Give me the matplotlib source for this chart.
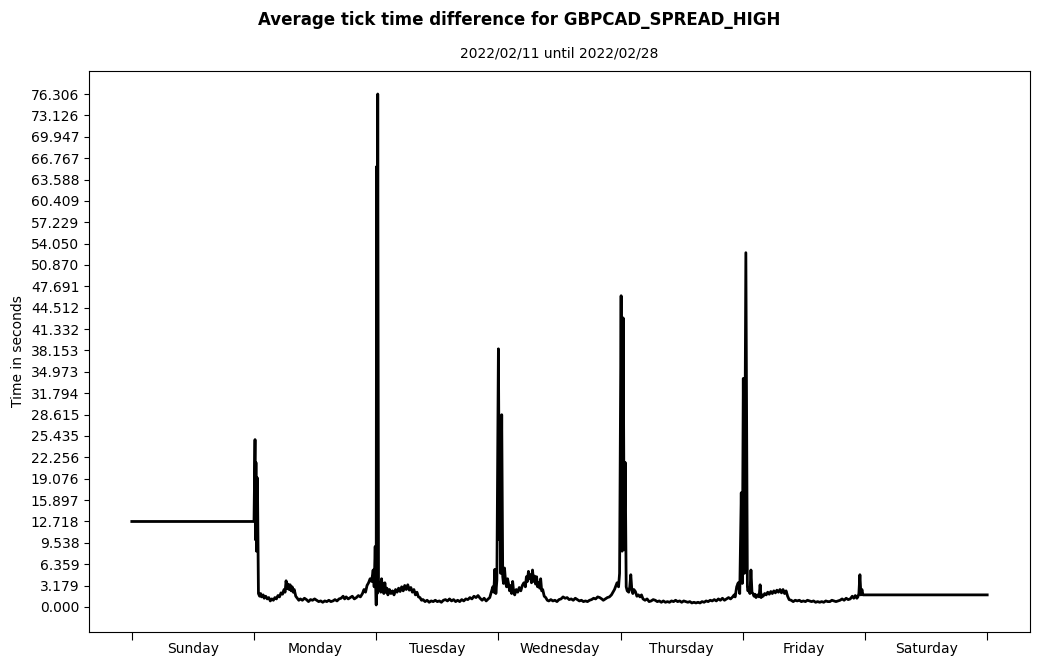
import numpy as np
import matplotlib
matplotlib.use('Agg')
import matplotlib.pyplot as plt

# (hour into the week, average tick gap in seconds), Sunday 00:00 = hour 0
sunday = [(0.0, 12.718), (24.0, 12.718)]

monday = [
    (24.2, 24.9), (24.28, 10.0), (24.38, 21.5), (24.48, 8.3), (24.67, 19.2),
    (24.87, 2.0), (25.1, 1.6), (25.3, 2.0), (25.5, 1.5), (25.8, 1.8), (26.0, 1.3),
    (26.3, 1.6), (26.6, 1.2), (26.9, 1.4), (27.2, 0.9), (27.5, 1.2), (27.8, 1.0),
    (28.1, 1.4), (28.4, 1.2), (28.7, 1.7), (29.0, 1.5), (29.3, 2.1), (29.6, 1.9),
    (29.9, 2.6), (30.1, 2.2), (30.3, 3.9), (30.5, 2.7), (30.7, 3.4), (30.9, 2.6),
    (31.1, 3.3), (31.3, 2.4), (31.5, 3.0), (31.7, 2.2), (31.9, 2.6), (32.2, 1.6),
    (32.5, 1.3), (32.8, 1.0), (33.1, 1.2), (33.5, 1.0), (33.9, 1.3), (34.3, 1.1),
    (34.7, 0.8), (35.1, 1.1), (35.5, 1.0), (35.9, 1.2), (36.3, 1.0), (36.7, 0.8),
    (37.1, 0.9), (37.5, 0.7), (37.9, 0.9), (38.3, 0.8), (38.7, 1.0), (39.1, 0.8),
    (39.5, 0.9), (39.9, 1.1), (40.3, 0.9), (40.7, 1.2), (41.1, 1.3), (41.5, 1.6),
    (41.8, 1.2), (42.1, 1.5), (42.5, 1.2), (42.9, 1.4), (43.3, 1.6), (43.7, 1.2),
    (44.1, 1.4), (44.5, 1.7), (44.9, 1.5), (45.3, 2.0), (45.6, 2.6), (45.9, 2.2),
    (46.2, 3.2), (46.5, 3.6), (46.8, 4.2), (47.1, 3.8), (47.4, 5.5), (47.6, 3.0),
    (47.8, 9.0), (48.0, 0.3), (48.07, 65.5), (48.2, 2.0), (48.3, 76.3056),
]

tuesday = [
    (48.45, 4.0), (48.6, 2.5), (48.76, 3.2), (48.9, 2.2), (49.05, 4.2), (49.2, 2.8),
    (49.35, 3.5), (49.5, 2.0), (49.7, 3.6), (49.9, 2.2), (50.1, 2.8), (50.3, 1.8),
    (50.6, 2.6), (50.9, 2.0), (51.2, 2.4), (51.5, 1.8), (51.8, 2.6), (52.1, 2.2),
    (52.4, 2.8), (52.7, 2.3), (53.0, 3.0), (53.3, 2.4), (53.6, 3.2), (53.9, 2.6),
    (54.2, 3.3), (54.5, 2.5), (54.8, 2.9), (55.1, 2.2), (55.4, 2.6), (55.7, 1.8),
    (56.0, 2.2), (56.3, 1.5), (56.6, 1.4), (56.9, 1.0), (57.2, 1.1), (57.6, 0.8),
    (58.0, 1.0), (58.4, 0.7), (58.8, 0.9), (59.2, 0.8), (59.6, 1.0), (60.0, 0.8),
    (60.4, 0.9), (60.8, 0.7), (61.2, 1.0), (61.6, 1.1), (62.0, 0.9), (62.4, 1.2),
    (62.8, 0.9), (63.2, 1.1), (63.6, 0.8), (64.0, 1.0), (64.4, 0.8), (64.8, 1.1),
    (65.2, 0.9), (65.6, 1.2), (66.0, 1.1), (66.4, 1.4), (66.8, 1.2), (67.2, 1.6),
    (67.6, 1.4), (68.0, 1.7), (68.4, 1.3), (68.8, 1.0), (69.2, 1.3), (69.6, 0.9),
    (70.0, 1.2), (70.3, 1.4), (70.6, 2.2), (70.9, 3.0), (71.1, 2.2), (71.3, 5.6),
    (71.5, 2.0), (71.7, 4.0), (72.0, 38.4),
]

wednesday = [
    (72.2, 10.0), (72.3, 25.0), (72.45, 5.0), (72.65, 28.6), (72.85, 4.5),
    (73.0, 3.5), (73.2, 5.8), (73.4, 3.8), (73.6, 3.0), (73.8, 4.2), (74.0, 3.4),
    (74.2, 2.4), (74.4, 3.2), (74.6, 2.0), (74.8, 3.8), (75.0, 2.2), (75.2, 1.8),
    (75.5, 2.6), (75.8, 2.2), (76.1, 2.9), (76.4, 2.4), (76.7, 3.2), (77.0, 3.6),
    (77.3, 3.0), (77.5, 4.5), (77.7, 3.8), (77.9, 5.3), (78.1, 4.2), (78.3, 4.8),
    (78.5, 3.6), (78.7, 5.5), (78.9, 3.8), (79.1, 4.6), (79.3, 3.4), (79.5, 4.5),
    (79.7, 3.0), (79.9, 3.6), (80.1, 2.8), (80.3, 4.2), (80.5, 2.4), (80.7, 2.6),
    (81.0, 1.6), (81.3, 1.4), (81.6, 1.0), (81.9, 0.9), (82.3, 1.1), (82.7, 0.9),
    (83.1, 1.0), (83.5, 0.8), (83.9, 1.1), (84.3, 1.2), (84.7, 1.5), (85.1, 1.3),
    (85.5, 1.4), (85.9, 1.1), (86.3, 1.2), (86.7, 1.0), (87.1, 1.3), (87.5, 1.1),
    (87.9, 0.9), (88.3, 1.0), (88.7, 0.8), (89.1, 0.9), (89.5, 0.8), (89.9, 1.0),
    (90.3, 1.1), (90.7, 1.3), (91.1, 1.2), (91.5, 1.5), (91.9, 1.4), (92.3, 1.2),
    (92.6, 1.0), (93.0, 1.2), (93.4, 1.4), (93.8, 1.5), (94.2, 1.8), (94.5, 2.2),
    (94.8, 2.6), (95.1, 3.2), (95.3, 3.6), (95.6, 3.0), (95.8, 5.0), (96.1, 46.3),
]

thursday = [
    (96.3, 8.3), (96.5, 43.0), (96.7, 8.5), (96.9, 21.5), (97.1, 3.0), (97.3, 2.4),
    (97.6, 2.2), (97.8, 3.0), (98.0, 4.8), (98.2, 2.6), (98.4, 2.0), (98.6, 2.6),
    (98.9, 2.3), (99.2, 1.6), (99.5, 1.8), (99.8, 1.5), (100.1, 1.8), (100.4, 1.2),
    (100.8, 1.0), (101.2, 1.2), (101.6, 0.8), (102.0, 0.9), (102.4, 1.1), (102.8, 1.0),
    (103.2, 0.8), (103.6, 0.9), (104.0, 0.7), (104.4, 0.9), (104.8, 0.7), (105.2, 0.8),
    (105.6, 0.7), (106.0, 0.9), (106.4, 0.8), (106.8, 1.0), (107.2, 0.8), (107.6, 0.9),
    (108.0, 0.7), (108.4, 0.9), (108.8, 0.8), (109.2, 0.7), (109.6, 0.8), (110.0, 0.6),
    (110.4, 0.7), (110.8, 0.6), (111.2, 0.7), (111.6, 0.6), (112.0, 0.8), (112.4, 0.7),
    (112.8, 0.9), (113.2, 0.8), (113.6, 1.0), (114.0, 0.9), (114.4, 1.1), (114.8, 0.9),
    (115.2, 1.2), (115.6, 1.0), (116.0, 1.3), (116.4, 1.0), (116.8, 1.2), (117.2, 1.4),
    (117.6, 1.2), (118.0, 1.5), (118.3, 1.8), (118.5, 1.5), (118.8, 3.0), (119.1, 3.6),
    (119.4, 2.0), (119.7, 17.0), (119.9, 3.5), (120.1, 34.0),
]

friday = [
    (120.3, 5.0), (120.6, 52.7), (120.9, 3.0), (121.0, 2.4), (121.2, 2.8), (121.4, 2.0),
    (121.6, 5.5), (121.8, 2.2), (122.0, 2.0), (122.2, 1.6), (122.4, 1.9), (122.6, 1.4),
    (122.9, 1.8), (123.2, 1.5), (123.4, 3.3), (123.6, 1.4), (123.8, 1.8), (124.0, 1.6),
    (124.3, 2.0), (124.6, 1.8), (124.9, 2.2), (125.2, 1.9), (125.5, 2.3), (125.8, 2.0),
    (126.1, 2.4), (126.4, 2.1), (126.7, 2.5), (127.0, 2.2), (127.3, 2.6), (127.6, 2.1),
    (127.9, 2.6), (128.2, 2.0), (128.5, 2.4), (128.8, 1.6), (129.1, 1.1), (129.5, 1.0),
    (129.9, 0.8), (130.3, 1.0), (130.7, 0.9), (131.1, 1.0), (131.5, 0.8), (131.9, 0.9),
    (132.3, 0.8), (132.7, 1.0), (133.1, 0.9), (133.5, 0.8), (133.9, 0.9), (134.3, 0.7),
    (134.7, 0.8), (135.1, 0.7), (135.5, 0.8), (135.9, 0.7), (136.3, 0.9), (136.7, 0.8),
    (137.1, 0.8), (137.5, 1.0), (137.9, 0.9), (138.3, 0.8), (138.7, 0.9), (139.1, 1.0),
    (139.5, 1.2), (139.9, 1.0), (140.3, 1.3), (140.7, 1.1), (141.1, 1.2), (141.5, 1.6),
    (141.8, 1.3), (142.1, 1.7), (142.4, 1.3), (142.6, 1.5), (142.8, 2.0), (143.0, 4.8),
    (143.2, 1.8), (143.4, 2.6), (143.6, 1.8),
]

saturday = [(168.0, 1.8)]

day_names = ['Sunday', 'Monday', 'Tuesday', 'Wednesday', 'Thursday', 'Friday', 'Saturday']
y_max = 76.3056
n_yticks = 25

points = sunday + monday + tuesday + wednesday + thursday + friday + saturday
hours = [p[0] for p in points]
seconds = [p[1] for p in points]

fig = plt.figure(figsize=(10.39, 6.64), dpi=100)
ax = fig.add_axes([0.0857, 0.0482, 0.9056, 0.8449])

ax.plot(hours, seconds, color='k', lw=2)

ax.set_xlim(-8.4, 176.4)
ax.set_ylim(-3.72, 79.73)

# day boundaries as major ticks, names in the middle of each day
ax.set_xticks(np.arange(0, 169, 24))
ax.set_xticklabels([])
ax.set_xticks(np.arange(12, 168, 24), minor=True)
ax.set_xticklabels(day_names, minor=True)
ax.tick_params(axis='x', which='minor', length=0, pad=7)
ax.tick_params(axis='x', which='major', length=6)

yt = np.linspace(0, y_max, n_yticks)
ax.set_yticks(yt)
ax.set_yticklabels(['%.3f' % v for v in yt])

ax.set_ylabel('Time in seconds')
fig.suptitle('Average tick time difference for GBPCAD_SPREAD_HIGH',
             fontsize=12, fontweight='bold', y=0.984)
ax.set_title('2022/02/11 until 2022/02/28', fontsize=10, pad=10)

plt.savefig('out.png', dpi=100)
